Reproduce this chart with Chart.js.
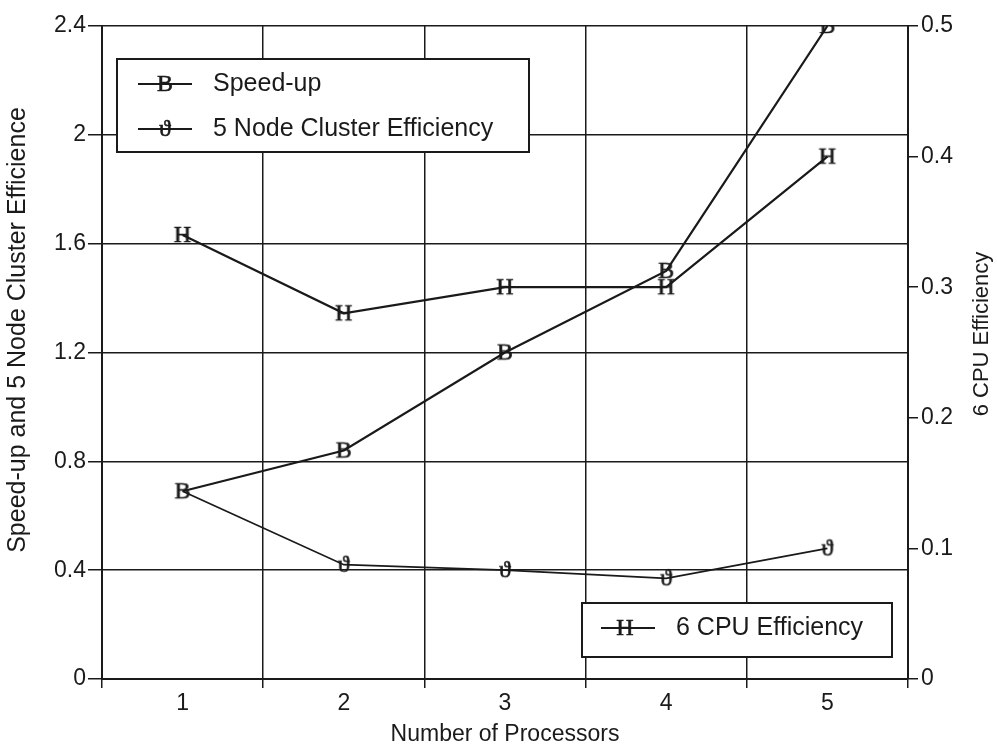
<!DOCTYPE html>
<html>
<head>
<meta charset="utf-8">
<style>
  html, body { margin: 0; padding: 0; background: #fff; }
  #wrap { width: 997px; height: 748px; position: relative; }
</style>
<script src="https://cdn.jsdelivr.net/npm/chart.js@4/dist/chart.umd.min.js"></script>
</head>
<body>
<div id="wrap"><canvas id="c" width="997" height="748"></canvas></div>
<script>
// Processor counts along the x axis
const processors = ['1', '2', '3', '4', '5'];
// Left axis series
const speedUp = [0.69, 0.84, 1.20, 1.50, 2.40];
const clusterEfficiency = [0.69, 0.42, 0.40, 0.37, 0.48];
// Right axis series
const cpuEfficiency = [0.34, 0.28, 0.30, 0.30, 0.40];

const leftTicks = [0, 0.4, 0.8, 1.2, 1.6, 2, 2.4];
const rightTicks = [0, 0.1, 0.2, 0.3, 0.4, 0.5];

const leftTitle = 'Speed-up and 5 Node Cluster Efficience';
const rightTitle = '6 CPU Efficiency';

const INK = '#1a1a1a';
const FONT = "'Liberation Sans', Arial, sans-serif";
const GLYPH_FONT = "'Liberation Serif', 'DejaVu Serif', serif";

// Build a small canvas carrying a letter, used as a point marker
function glyph(ch, size) {
  const c = document.createElement('canvas');
  c.width = 34; c.height = 34;
  const g = c.getContext('2d');
  g.fillStyle = INK;
  g.strokeStyle = INK;
  g.lineWidth = 0.6;
  g.font = size + 'px ' + GLYPH_FONT;
  g.textAlign = 'center';
  g.textBaseline = 'middle';
  g.fillText(ch, 17, 18);
  g.strokeText(ch, 17, 18);
  return c;
}
const markB = glyph('B', 24);
const markH = glyph('H', 24);
const markT = glyph('\u03D1', 24);

// Rotated text, reading bottom to top
function verticalText(ctx, text, x, y, size) {
  ctx.save();
  ctx.translate(x, y);
  ctx.rotate(-Math.PI / 2);
  ctx.fillStyle = INK;
  ctx.font = size + 'px ' + FONT;
  ctx.textAlign = 'center';
  ctx.textBaseline = 'middle';
  ctx.fillText(text, 0, 0);
  ctx.restore();
}

// Boxed legends inside the plot area and the two axis titles
const annotations = {
  id: 'annotations',
  afterDraw(chart) {
    const ctx = chart.ctx;
    const boxes = [
      { x: 117, y: 59, w: 412, h: 93, rows: [
        { y: 84, mark: markB, text: 'Speed-up', lx: 138, gx: 165, tx: 213 },
        { y: 129, mark: markT, text: '5 Node Cluster Efficiency', lx: 138, gx: 165, tx: 213 }
      ]},
      { x: 582, y: 603, w: 310, h: 54, rows: [
        { y: 628, mark: markH, text: '6 CPU Efficiency', lx: 601, gx: 625, tx: 676 }
      ]}
    ];
    ctx.save();
    boxes.forEach(b => {
      ctx.fillStyle = '#fff';
      ctx.fillRect(b.x, b.y, b.w, b.h);
      ctx.strokeStyle = INK;
      ctx.lineWidth = 2;
      ctx.strokeRect(b.x, b.y, b.w, b.h);
      b.rows.forEach(r => {
        ctx.beginPath();
        ctx.lineWidth = 2;
        ctx.moveTo(r.lx, r.y);
        ctx.lineTo(r.lx + 54, r.y);
        ctx.stroke();
        ctx.drawImage(r.mark, r.gx - 17, r.y - 17);
        ctx.fillStyle = INK;
        ctx.font = '25px ' + FONT;
        ctx.textAlign = 'left';
        ctx.textBaseline = 'middle';
        ctx.fillText(r.text, r.tx, r.y);
      });
    });
    ctx.restore();
    verticalText(ctx, leftTitle, 18, 330, 25);
    verticalText(ctx, rightTitle, 982, 334, 22);
  }
};

new Chart(document.getElementById('c'), {
  type: 'line',
  data: {
    labels: processors,
    datasets: [
      {
        label: 'Speed-up',
        data: speedUp,
        yAxisID: 'y',
        borderColor: INK,
        borderWidth: 2.2,
        pointStyle: markB,
        pointRadius: 12,
        tension: 0,
        order: 1
      },
      {
        label: '5 Node Cluster Efficiency',
        data: clusterEfficiency,
        yAxisID: 'y',
        borderColor: INK,
        borderWidth: 1.8,
        pointStyle: markT,
        pointRadius: [0, 12, 12, 12, 12],
        tension: 0,
        order: 2
      },
      {
        label: '6 CPU Efficiency',
        data: cpuEfficiency,
        yAxisID: 'y1',
        borderColor: INK,
        borderWidth: 2.2,
        pointStyle: markH,
        pointRadius: 12,
        tension: 0,
        order: 3
      }
    ]
  },
  options: {
    responsive: false,
    animation: false,
    devicePixelRatio: 1,
    layout: { padding: { top: 26, left: 0, right: 0, bottom: 0 } },
    plugins: {
      legend: { display: false },
      tooltip: { enabled: false }
    },
    scales: {
      x: {
        type: 'category',
        offset: true,
        grid: { offset: true, color: INK, lineWidth: 1.5, tickLength: 9 },
        border: { color: INK, width: 2 },
        ticks: { color: INK, font: { family: FONT, size: 23 }, padding: 2 },
        title: { display: true, text: 'Number of Processors', color: INK,
                 font: { family: FONT, size: 23 }, padding: { top: 0, bottom: 0 } },
        afterFit(s) { s.height = 69; }
      },
      y: {
        position: 'left',
        min: 0, max: 2.4,
        afterBuildTicks(s) { s.ticks = leftTicks.map(v => ({ value: v })); },
        grid: { color: INK, lineWidth: 1.5, tickLength: 14 },
        border: { color: INK, width: 2 },
        ticks: {
          color: INK, font: { family: FONT, size: 23 }, padding: 2,
          callback: v => String(v)
        },
        afterFit(s) { s.width = 102; }
      },
      y1: {
        position: 'right',
        min: 0, max: 0.5,
        afterBuildTicks(s) { s.ticks = rightTicks.map(v => ({ value: v })); },
        grid: { drawOnChartArea: false, color: INK, lineWidth: 1.5, tickLength: 10 },
        border: { color: INK, width: 2 },
        ticks: {
          color: INK, font: { family: FONT, size: 23 }, padding: 3,
          callback: v => String(v)
        },
        afterFit(s) { s.width = 89; }
      }
    }
  },
  plugins: [annotations]
});
</script>
</body>
</html>
